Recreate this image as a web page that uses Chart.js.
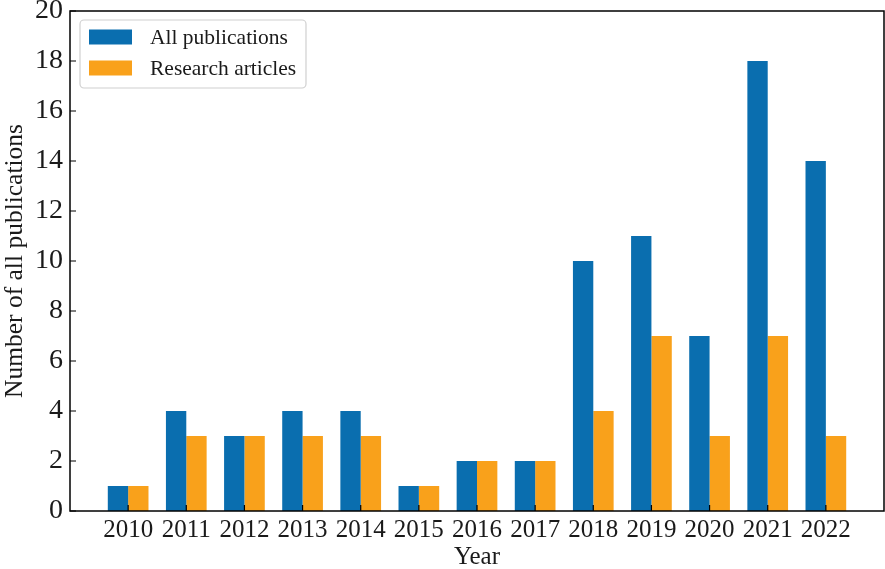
<!DOCTYPE html>
<html lang="en">
<head>
  <meta charset="UTF-8" />
  <title>Publications per year</title>
  <script src="https://cdn.jsdelivr.net/npm/chart.js"></script>
  <style>
    html, body {
      margin: 0;
      padding: 0;
      background: #ffffff;
    }
    #wrap {
      position: relative;
      width: 885px;
      height: 569px;
    }
  </style>
</head>
<body>
  <div id="wrap">
    <canvas id="pubChart" width="885" height="569"></canvas>
  </div>

  <script>
    // data
    const years = [2010, 2011, 2012, 2013, 2014, 2015, 2016, 2017, 2018, 2019, 2020, 2021, 2022];
    const allPublications = [1, 4, 3, 4, 4, 1, 2, 2, 10, 11, 7, 18, 14];
    const researchArticles = [1, 3, 3, 3, 3, 1, 2, 2, 4, 7, 3, 7, 3];
    const yTicks = [0, 2, 4, 6, 8, 10, 12, 14, 16, 18, 20];

    const BLUE = '#0a6eaf';
    const ORANGE = '#f9a11b';
    const SERIF = "'Liberation Serif', 'DejaVu Serif', serif";
    const INK = '#1a1a1a';

    // frame + inward ticks, like the matplotlib style of the original
    const frameTicks = {
      id: 'frameTicks',
      afterDraw(chart) {
        const { ctx, chartArea: a, scales } = chart;
        ctx.save();
        ctx.strokeStyle = '#000';
        ctx.lineWidth = 1.5;
        ctx.strokeRect(a.left, a.top, a.right - a.left, a.bottom - a.top);
        ctx.lineWidth = 1.2;
        ctx.beginPath();
        years.forEach(v => {
          const x = scales.x.getPixelForValue(v);
          ctx.moveTo(x, a.bottom);
          ctx.lineTo(x, a.bottom - 6);
        });
        yTicks.forEach(v => {
          const y = scales.y.getPixelForValue(v);
          ctx.moveTo(a.left, y);
          ctx.lineTo(a.left + 6, y);
        });
        ctx.stroke();
        ctx.restore();
      }
    };

    // legend box sitting inside the upper-left corner of the plot
    const innerLegend = {
      id: 'innerLegend',
      afterDraw(chart) {
        const { ctx, chartArea: a } = chart;
        const x0 = a.left + 10, y0 = a.top + 9;
        ctx.save();
        ctx.beginPath();
        ctx.roundRect(x0, y0, 226, 68, 4);
        ctx.fillStyle = 'rgba(255,255,255,0.85)';
        ctx.fill();
        ctx.strokeStyle = '#d0d0d0';
        ctx.lineWidth = 1.2;
        ctx.stroke();
        ctx.font = '21.5px ' + SERIF;
        ctx.textBaseline = 'middle';
        chart.data.datasets.forEach((ds, i) => {
          const cy = y0 + 17 + i * 31;
          ctx.fillStyle = ds.backgroundColor;
          ctx.fillRect(x0 + 9, cy - 7.5, 43, 15);
          ctx.fillStyle = INK;
          ctx.fillText(ds.label, x0 + 70, cy + 1);
        });
        ctx.restore();
      }
    };

    window.onload = () => {
      const ctx = document.getElementById('pubChart').getContext('2d');
      new Chart(ctx, {
        type: 'bar',
        data: {
          datasets: [
            {
              label: 'All publications',
              data: years.map((y, i) => ({ x: y, y: allPublications[i] })),
              backgroundColor: BLUE
            },
            {
              label: 'Research articles',
              data: years.map((y, i) => ({ x: y, y: researchArticles[i] })),
              backgroundColor: ORANGE
            }
          ]
        },
        options: {
          responsive: false,
          animation: false,
          devicePixelRatio: 1,
          categoryPercentage: 0.7,
          barPercentage: 1.0,
          layout: { padding: 0 },
          plugins: {
            legend: { display: false },
            tooltip: { enabled: false }
          },
          scales: {
            x: {
              type: 'linear',
              min: years[0] - 1,
              max: years[years.length - 1] + 1,
              offset: false,
              grid: { display: false, drawTicks: false, tickLength: 0 },
              border: { display: false },
              ticks: {
                stepSize: 1,
                autoSkip: false,
                maxRotation: 0,
                padding: 4,
                color: INK,
                font: { family: SERIF, size: 25 },
                callback: v => years.includes(v) ? String(v) : ''
              },
              title: {
                display: true,
                text: 'Year',
                color: INK,
                padding: { top: 0, bottom: -3 },
                font: { family: SERIF, size: 25 }
              },
              afterFit: s => {
                s.height = 58;
                s.paddingLeft = 0;
                s.paddingRight = 1;
              }
            },
            y: {
              min: 0,
              max: 20,
              grid: { display: false, drawTicks: false, tickLength: 0 },
              border: { display: false },
              ticks: {
                stepSize: 2,
                padding: 7,
                color: INK,
                font: { family: SERIF, size: 28 }
              },
              title: {
                display: true,
                text: 'Number of all publications',
                color: INK,
                padding: { top: 0, bottom: 0 },
                font: { family: SERIF, size: 25.5 }
              },
              afterFit: s => {
                s.width = 70;
                s.paddingTop = 11;
                s.paddingBottom = 0;
              }
            }
          }
        },
        plugins: [frameTicks, innerLegend]
      });
    };
  </script>
</body>
</html>
